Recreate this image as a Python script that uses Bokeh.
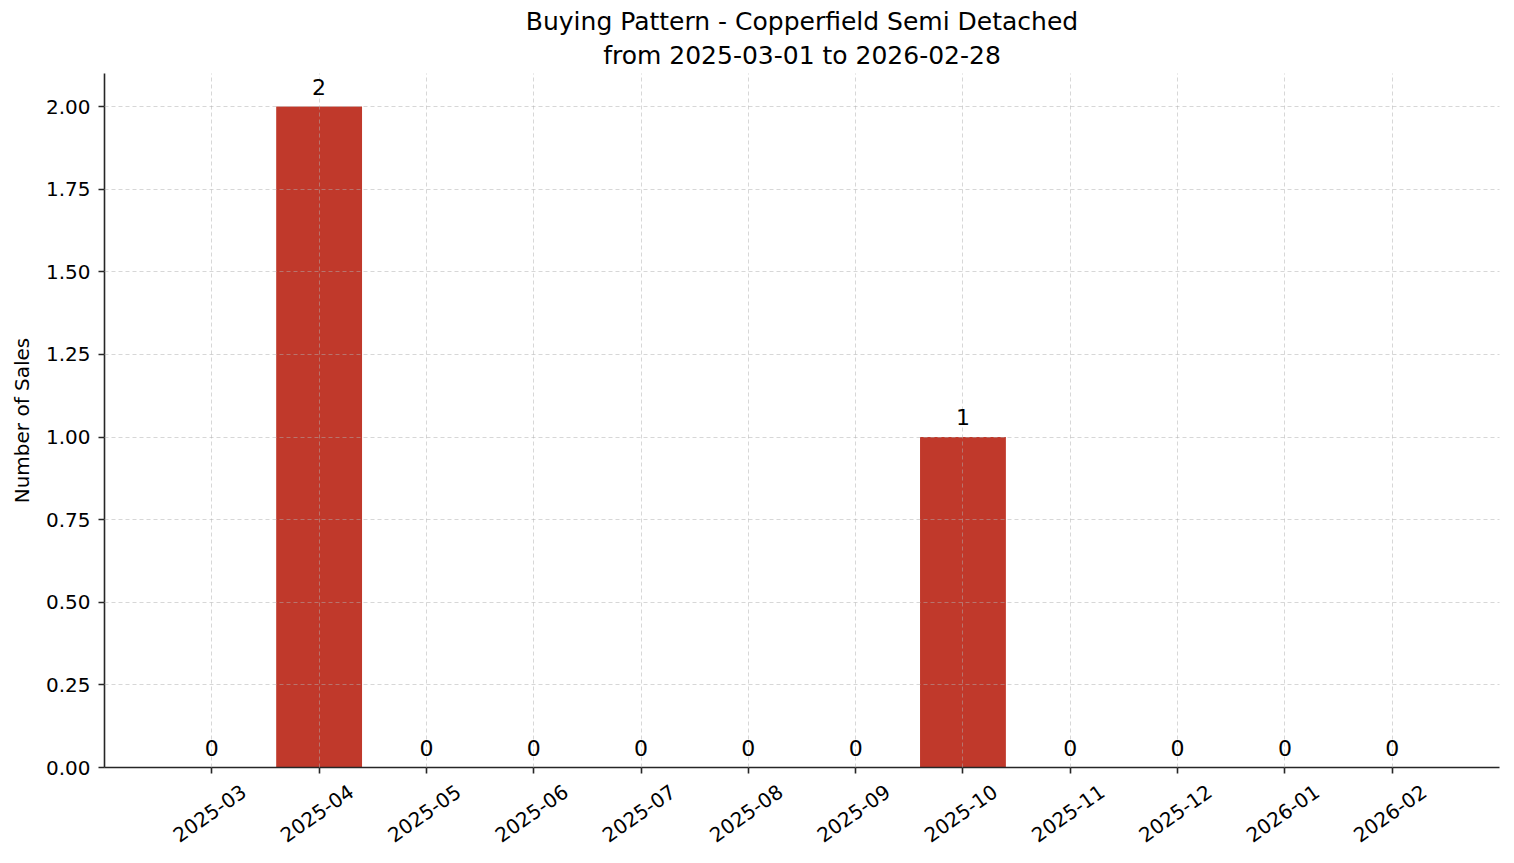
from bokeh.plotting import figure
from bokeh.models import ColumnDataSource, FixedTicker, PrintfTickFormatter, Title, LabelSet, LinearAxis
from bokeh.core.properties import value
from bokeh.embed import file_html
from bokeh.resources import INLINE
import math

months = ["2025-03", "2025-04", "2025-05", "2025-06", "2025-07", "2025-08",
          "2025-09", "2025-10", "2025-11", "2025-12", "2026-01", "2026-02"]
sales = [0, 2, 0, 0, 0, 0, 0, 1, 0, 0, 0, 0]
y_ticks = [0.0, 0.25, 0.5, 0.75, 1.0, 1.25, 1.5, 1.75, 2.0]
title_line1 = "Buying Pattern - Copperfield Semi Detached"
title_line2 = "from 2025-03-01 to 2026-02-28"

FONT = "DejaVu Sans"
idx = list(range(len(months)))
src = ColumnDataSource(dict(x=idx, top=sales, label=[str(v) for v in sales]))

p = figure(frame_width=1395, frame_height=694, x_range=(-1, len(months)), y_range=(0, 2.1),
           output_backend="svg", toolbar_location=None,
           min_border_left=104, min_border_right=7, min_border_top=73, min_border_bottom=88,
           background_fill_color="white", border_fill_color="white")
p.outline_line_color = None

p.title.text = title_line1
p.title.align = "center"
p.title.text_font = FONT
p.title.text_font_size = "25px"
p.title.text_font_style = "normal"
p.title.text_color = "black"
p.title.standoff = 0
p.add_layout(Title(text=title_line2, align="center", text_font=FONT, text_font_size="25px",
                   text_font_style="normal", text_color="black", standoff=7), "above")

p.vbar(x="x", top="top", bottom=0, width=0.8, source=src, fill_color="#c0392b", line_color=None)
p.add_layout(LabelSet(x="x", y="top", text="label", source=src, text_align="center",
                      text_baseline="alphabetic", y_offset=12, text_font=value(FONT),
                      text_font_size="22px", text_color="black"))

for g in (p.xgrid, p.ygrid):
    g.grid_line_color = "#b0b0b0"
    g.grid_line_alpha = 0.5
    g.grid_line_dash = "4 3"
    g.grid_line_width = 1
    g.level = "annotation"

p.xaxis.ticker = FixedTicker(ticks=idx)
p.xaxis.major_label_overrides = {i: "" for i in idx}
p.xaxis.major_label_standoff = 0
p.yaxis.ticker = FixedTicker(ticks=y_ticks)
p.yaxis.formatter = PrintfTickFormatter(format="%.2f")
p.yaxis.axis_label = "Number of Sales"

# label axis: matplotlib centres rotated labels on the tick, Bokeh anchors their end,
# so the labels are placed half a label-width to the right
label_shift = 0.30
lab_axis = LinearAxis(ticker=FixedTicker(ticks=[i + label_shift for i in idx]),
                      major_label_overrides={i + label_shift: m for i, m in zip(idx, months)},
                      major_label_orientation=math.radians(35),
                      axis_line_color=None, major_tick_line_color=None, minor_tick_line_color=None,
                      major_label_text_font=FONT, major_label_text_font_size="20px",
                      major_label_text_color="black", major_label_standoff=10)
p.add_layout(lab_axis, "below")

for ax in (p.xaxis[0], p.yaxis[0]):
    ax.axis_line_color = "#262626"
    ax.axis_line_width = 1.6
    ax.major_tick_line_color = "#262626"
    ax.major_tick_line_width = 1.6
    ax.major_tick_out = 6
    ax.major_tick_in = 0
    ax.minor_tick_line_color = None
    ax.major_label_text_font = FONT
    ax.major_label_text_font_size = "20px"
    ax.major_label_text_color = "black"
    ax.axis_label_text_font = FONT
    ax.axis_label_text_font_size = "20px"
    ax.axis_label_text_font_style = "normal"
    ax.axis_label_text_color = "black"
p.yaxis.major_label_standoff = 8
p.yaxis.axis_label_standoff = 9

open("out.html", "w").write(file_html(p, INLINE))
